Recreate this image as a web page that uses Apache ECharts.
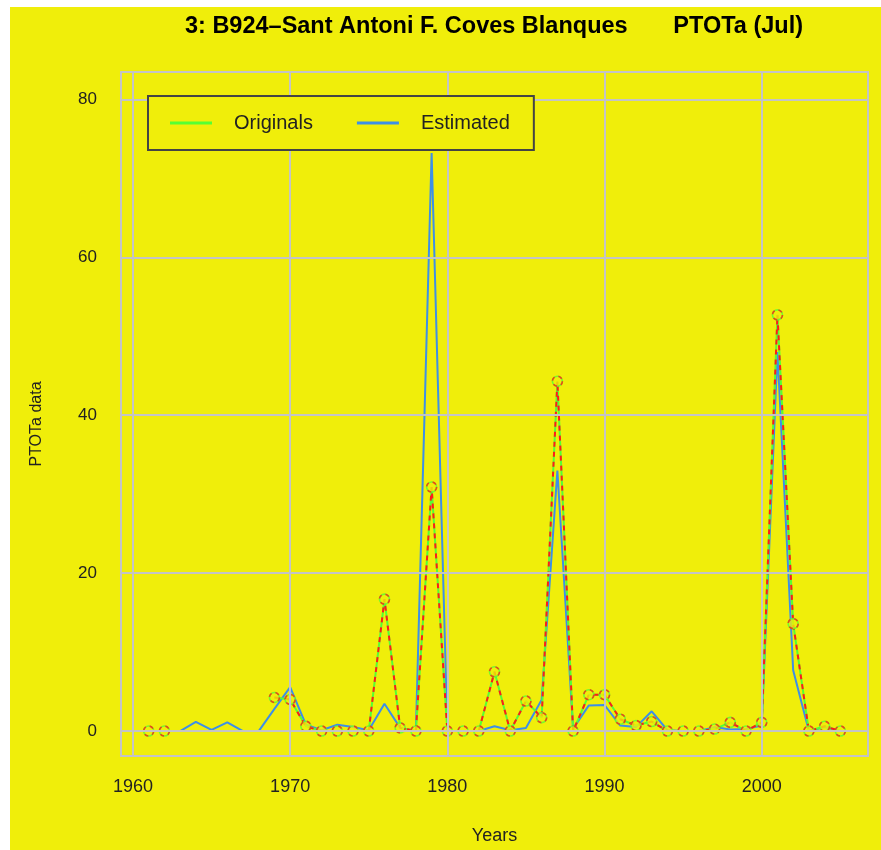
<!DOCTYPE html>
<html><head><meta charset="utf-8">
<script src="https://cdn.jsdelivr.net/npm/echarts@6/dist/echarts.min.js"></script>
<style>
html,body{margin:0;padding:0;background:#ffffff;}
#c{position:absolute;left:10px;top:7px;width:871px;height:843px;}
</style>
</head><body><div id="c"></div>
<script>
const years = [1961,1962,1963,1964,1965,1966,1967,1968,1969,1970,
  1971,1972,1973,1974,1975,1976,1977,1978,1979,1980,
  1981,1982,1983,1984,1985,1986,1987,1988,1989,1990,
  1991,1992,1993,1994,1995,1996,1997,1998,1999,2000,
  2001,2002,2003,2004,2005];
const originals = [0,0,null,null,null,null,null,null,4.25,4.0,
  0.6,0,0,0,0,16.7,0.4,0,30.9,0,
  0,0,7.5,0,3.8,1.7,44.3,0,4.6,4.6,
  1.5,0.7,1.2,0,0,0,0.25,1.1,0,1.1,
  52.7,13.6,0,0.6,0];
const estimated = [0,0,0,1.15,0.15,1.1,0,0,2.8,5.56,
  0.8,0.1,0.8,0.5,0.1,3.45,0.4,0,73.2,0,
  0,0,0.6,0.1,0.4,3.95,33,0.3,3.25,3.3,
  0.7,0.5,2.5,0.1,0,0,0.5,0.2,0.25,0.7,
  48,7.7,0,0.5,0];
const xTicks = [1960,1970,1980,1990,2000];
const yTicks = [0,20,40,60,80];
const titleText = '3: B924\u2013Sant Antoni F. Coves Blanques       PTOTa (Jul)';

const YELLOW = '#f0ee0a';
const GREEN = '#55ff33';
const RED = '#ff1a1a';
const BLUE = '#3d8fe8';
const GRIDC = '#c4c4c4';
const FONT = '"Liberation Sans", Arial, Helvetica, sans-serif';

const origPairs = years.map((y,i)=>[y, originals[i] === null ? '-' : originals[i]]);
const origPts = years.map((y,i)=>[y, originals[i]]).filter(p=>p[1] !== null);
const estPairs = years.map((y,i)=>[y, estimated[i]]);

const chart = echarts.init(document.getElementById('c'), null, {renderer:'canvas'});
chart.setOption({
  backgroundColor: YELLOW,
  animation: false,
  graphic: [{
    type: 'text', x: 484, y: 20, z: 10,
    style: {text: titleText, align: 'center', verticalAlign: 'middle',
      font: 'bold 23.5px ' + FONT, fill: '#000'}
  }],
  grid: {left: 111, top: 65, right: 13, bottom: 92, show: true,
    borderColor: GRIDC, borderWidth: 2, backgroundColor: 'transparent'},
  legend: {
    left: 138, top: 89, orient: 'horizontal',
    padding: [17, 24, 17, 22], itemGap: 44,
    itemWidth: 42, itemHeight: 3,
    backgroundColor: YELLOW, borderColor: '#444444', borderWidth: 2,
    z: 20,
    textStyle: {fontFamily: FONT, fontSize: 20, color: '#222', padding: [0,0,0,17]},
    data: [
      {name: 'Originals', icon: 'rect', itemStyle: {color: GREEN, borderWidth: 0}},
      {name: 'Estimated', icon: 'rect', itemStyle: {color: BLUE, borderWidth: 0}}
    ]
  },
  xAxis: {
    type: 'value', min: 1959.24, max: 2006.76, z: 5,
    name: 'Years', nameLocation: 'middle', nameGap: 71,
    nameTextStyle: {fontFamily: FONT, fontSize: 18, color: '#222'},
    axisLine: {show: false},
    axisTick: {show: false, customValues: xTicks},
    axisLabel: {customValues: xTicks, margin: 22, fontFamily: FONT, fontSize: 18, color: '#222',
      formatter: v => String(v)},
    splitLine: {show: true, lineStyle: {color: GRIDC, width: 2}}
  },
  yAxis: {
    type: 'value', min: -3.16, max: 83.46, z: 5,
    name: 'PTOTa data', nameLocation: 'middle', nameGap: 76, nameRotate: 90,
    nameTextStyle: {fontFamily: FONT, fontSize: 16, color: '#222', padding: [0, 20, 0, 0]},
    axisLine: {show: false},
    axisTick: {show: false, customValues: yTicks},
    axisLabel: {customValues: yTicks, margin: 24, fontFamily: FONT, fontSize: 17, color: '#222'},
    splitLine: {show: true, lineStyle: {color: GRIDC, width: 2}}
  },
  series: [
    {name: 'Estimated', type: 'line', data: estPairs, showSymbol: false, z: 2,
      itemStyle: {color: BLUE}, lineStyle: {color: BLUE, width: 2}},
    {name: 'Originals', type: 'line', data: origPairs, showSymbol: false, connectNulls: false, z: 2,
      itemStyle: {color: GREEN}, lineStyle: {color: GREEN, width: 2}},
    {name: 'Originals', type: 'line', data: origPairs, showSymbol: false, connectNulls: false, z: 2,
      itemStyle: {color: RED}, lineStyle: {color: RED, width: 2, type: [5, 5]}},
    {name: 'Originals', type: 'scatter', data: origPts, symbol: 'circle', symbolSize: 10, z: 3,
      itemStyle: {color: YELLOW, borderColor: GREEN, borderWidth: 1.6}},
    {name: 'Originals', type: 'scatter', data: origPts, symbol: 'circle', symbolSize: 10, z: 3,
      itemStyle: {color: 'transparent', borderColor: RED, borderWidth: 1.6, borderType: [4, 4]}}
  ]
});
</script>
</body></html>
